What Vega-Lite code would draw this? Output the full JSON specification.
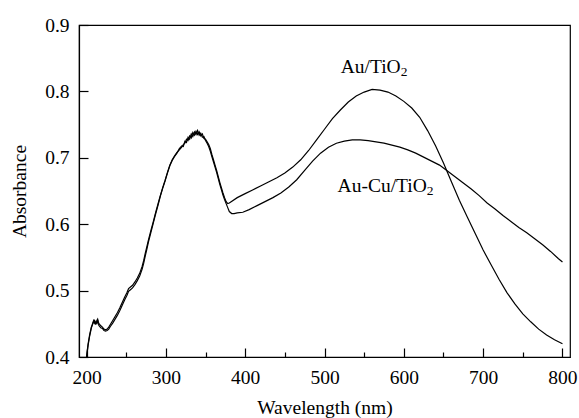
{
  "$schema": "https://vega.github.io/schema/vega-lite/v6.json",
  "width": 491,
  "height": 332,
  "autosize": {"type": "none"},
  "padding": {"left": 79, "top": 25, "right": 9, "bottom": 61},
  "config": {
    "view": {"stroke": "black", "strokeWidth": 1.2},
    "font": "Liberation Serif",
    "axis": {"grid": false, "domainColor": "black", "tickColor": "black", "labelColor": "black", "titleColor": "black", "labelFont": "Liberation Serif", "titleFont": "Liberation Serif", "labelFontSize": 19.5, "titleFontSize": 19.5, "titleFontWeight": "normal"}
  },
  "datasets": {
    "spec": [
      {"wl":200,"abs":0.400,"s":"Au/TiO2"},{"wl":202,"abs":0.418,"s":"Au/TiO2"},{"wl":204,"abs":0.432,"s":"Au/TiO2"},{"wl":206,"abs":0.443,"s":"Au/TiO2"},{"wl":208,"abs":0.452,"s":"Au/TiO2"},{"wl":209,"abs":0.455,"s":"Au/TiO2"},{"wl":210,"abs":0.451,"s":"Au/TiO2"},{"wl":211,"abs":0.453,"s":"Au/TiO2"},{"wl":212,"abs":0.449,"s":"Au/TiO2"},{"wl":213,"abs":0.455,"s":"Au/TiO2"},{"wl":214,"abs":0.457,"s":"Au/TiO2"},{"wl":215,"abs":0.452,"s":"Au/TiO2"},{"wl":216,"abs":0.450,"s":"Au/TiO2"},{"wl":218,"abs":0.447,"s":"Au/TiO2"},{"wl":220,"abs":0.445,"s":"Au/TiO2"},{"wl":222,"abs":0.442,"s":"Au/TiO2"},{"wl":224,"abs":0.441,"s":"Au/TiO2"},{"wl":226,"abs":0.442,"s":"Au/TiO2"},{"wl":228,"abs":0.445,"s":"Au/TiO2"},{"wl":230,"abs":0.449,"s":"Au/TiO2"},{"wl":233,"abs":0.455,"s":"Au/TiO2"},{"wl":236,"abs":0.461,"s":"Au/TiO2"},{"wl":239,"abs":0.467,"s":"Au/TiO2"},{"wl":242,"abs":0.474,"s":"Au/TiO2"},{"wl":245,"abs":0.482,"s":"Au/TiO2"},{"wl":248,"abs":0.490,"s":"Au/TiO2"},{"wl":251,"abs":0.497,"s":"Au/TiO2"},{"wl":253,"abs":0.503,"s":"Au/TiO2"},{"wl":255,"abs":0.505,"s":"Au/TiO2"},{"wl":258,"abs":0.508,"s":"Au/TiO2"},{"wl":261,"abs":0.513,"s":"Au/TiO2"},{"wl":264,"abs":0.519,"s":"Au/TiO2"},{"wl":267,"abs":0.526,"s":"Au/TiO2"},{"wl":270,"abs":0.536,"s":"Au/TiO2"},{"wl":272,"abs":0.545,"s":"Au/TiO2"},{"wl":274,"abs":0.556,"s":"Au/TiO2"},{"wl":276,"abs":0.566,"s":"Au/TiO2"},{"wl":278,"abs":0.576,"s":"Au/TiO2"},{"wl":281,"abs":0.590,"s":"Au/TiO2"},{"wl":284,"abs":0.603,"s":"Au/TiO2"},{"wl":287,"abs":0.617,"s":"Au/TiO2"},{"wl":290,"abs":0.630,"s":"Au/TiO2"},{"wl":293,"abs":0.643,"s":"Au/TiO2"},{"wl":296,"abs":0.655,"s":"Au/TiO2"},{"wl":299,"abs":0.666,"s":"Au/TiO2"},{"wl":302,"abs":0.678,"s":"Au/TiO2"},{"wl":305,"abs":0.689,"s":"Au/TiO2"},{"wl":308,"abs":0.697,"s":"Au/TiO2"},{"wl":311,"abs":0.703,"s":"Au/TiO2"},{"wl":314,"abs":0.708,"s":"Au/TiO2"},{"wl":317,"abs":0.712,"s":"Au/TiO2"},{"wl":320,"abs":0.716,"s":"Au/TiO2"},{"wl":322,"abs":0.720,"s":"Au/TiO2"},{"wl":324,"abs":0.722,"s":"Au/TiO2"},{"wl":326,"abs":0.728,"s":"Au/TiO2"},{"wl":328,"abs":0.726,"s":"Au/TiO2"},{"wl":330,"abs":0.733,"s":"Au/TiO2"},{"wl":332,"abs":0.730,"s":"Au/TiO2"},{"wl":334,"abs":0.738,"s":"Au/TiO2"},{"wl":336,"abs":0.734,"s":"Au/TiO2"},{"wl":338,"abs":0.740,"s":"Au/TiO2"},{"wl":340,"abs":0.735,"s":"Au/TiO2"},{"wl":342,"abs":0.739,"s":"Au/TiO2"},{"wl":344,"abs":0.733,"s":"Au/TiO2"},{"wl":346,"abs":0.736,"s":"Au/TiO2"},{"wl":348,"abs":0.729,"s":"Au/TiO2"},{"wl":350,"abs":0.728,"s":"Au/TiO2"},{"wl":352,"abs":0.724,"s":"Au/TiO2"},{"wl":354,"abs":0.720,"s":"Au/TiO2"},{"wl":356,"abs":0.714,"s":"Au/TiO2"},{"wl":358,"abs":0.705,"s":"Au/TiO2"},{"wl":360,"abs":0.697,"s":"Au/TiO2"},{"wl":362,"abs":0.689,"s":"Au/TiO2"},{"wl":364,"abs":0.681,"s":"Au/TiO2"},{"wl":366,"abs":0.672,"s":"Au/TiO2"},{"wl":368,"abs":0.663,"s":"Au/TiO2"},{"wl":370,"abs":0.655,"s":"Au/TiO2"},{"wl":372,"abs":0.647,"s":"Au/TiO2"},{"wl":374,"abs":0.640,"s":"Au/TiO2"},{"wl":376,"abs":0.634,"s":"Au/TiO2"},{"wl":378,"abs":0.631,"s":"Au/TiO2"},{"wl":380,"abs":0.632,"s":"Au/TiO2"},{"wl":390,"abs":0.640,"s":"Au/TiO2"},{"wl":400,"abs":0.646,"s":"Au/TiO2"},{"wl":410,"abs":0.652,"s":"Au/TiO2"},{"wl":420,"abs":0.658,"s":"Au/TiO2"},{"wl":430,"abs":0.664,"s":"Au/TiO2"},{"wl":440,"abs":0.670,"s":"Au/TiO2"},{"wl":450,"abs":0.677,"s":"Au/TiO2"},{"wl":460,"abs":0.686,"s":"Au/TiO2"},{"wl":470,"abs":0.697,"s":"Au/TiO2"},{"wl":480,"abs":0.711,"s":"Au/TiO2"},{"wl":490,"abs":0.727,"s":"Au/TiO2"},{"wl":500,"abs":0.743,"s":"Au/TiO2"},{"wl":510,"abs":0.759,"s":"Au/TiO2"},{"wl":520,"abs":0.772,"s":"Au/TiO2"},{"wl":530,"abs":0.784,"s":"Au/TiO2"},{"wl":540,"abs":0.793,"s":"Au/TiO2"},{"wl":550,"abs":0.799,"s":"Au/TiO2"},{"wl":560,"abs":0.803,"s":"Au/TiO2"},{"wl":570,"abs":0.802,"s":"Au/TiO2"},{"wl":580,"abs":0.799,"s":"Au/TiO2"},{"wl":590,"abs":0.793,"s":"Au/TiO2"},{"wl":600,"abs":0.785,"s":"Au/TiO2"},{"wl":610,"abs":0.775,"s":"Au/TiO2"},{"wl":620,"abs":0.761,"s":"Au/TiO2"},{"wl":630,"abs":0.741,"s":"Au/TiO2"},{"wl":640,"abs":0.718,"s":"Au/TiO2"},{"wl":650,"abs":0.692,"s":"Au/TiO2"},{"wl":660,"abs":0.664,"s":"Au/TiO2"},{"wl":670,"abs":0.636,"s":"Au/TiO2"},{"wl":680,"abs":0.611,"s":"Au/TiO2"},{"wl":690,"abs":0.586,"s":"Au/TiO2"},{"wl":700,"abs":0.561,"s":"Au/TiO2"},{"wl":710,"abs":0.539,"s":"Au/TiO2"},{"wl":720,"abs":0.517,"s":"Au/TiO2"},{"wl":730,"abs":0.497,"s":"Au/TiO2"},{"wl":740,"abs":0.480,"s":"Au/TiO2"},{"wl":750,"abs":0.465,"s":"Au/TiO2"},{"wl":760,"abs":0.453,"s":"Au/TiO2"},{"wl":770,"abs":0.442,"s":"Au/TiO2"},{"wl":780,"abs":0.433,"s":"Au/TiO2"},{"wl":790,"abs":0.426,"s":"Au/TiO2"},{"wl":800,"abs":0.420,"s":"Au/TiO2"},

      {"wl":200,"abs":0.400,"s":"Au-Cu/TiO2"},{"wl":202,"abs":0.420,"s":"Au-Cu/TiO2"},{"wl":204,"abs":0.434,"s":"Au-Cu/TiO2"},{"wl":206,"abs":0.445,"s":"Au-Cu/TiO2"},{"wl":208,"abs":0.450,"s":"Au-Cu/TiO2"},{"wl":209,"abs":0.453,"s":"Au-Cu/TiO2"},{"wl":210,"abs":0.455,"s":"Au-Cu/TiO2"},{"wl":211,"abs":0.450,"s":"Au-Cu/TiO2"},{"wl":212,"abs":0.452,"s":"Au-Cu/TiO2"},{"wl":213,"abs":0.451,"s":"Au-Cu/TiO2"},{"wl":214,"abs":0.456,"s":"Au-Cu/TiO2"},{"wl":215,"abs":0.449,"s":"Au-Cu/TiO2"},{"wl":216,"abs":0.447,"s":"Au-Cu/TiO2"},{"wl":218,"abs":0.444,"s":"Au-Cu/TiO2"},{"wl":220,"abs":0.443,"s":"Au-Cu/TiO2"},{"wl":222,"abs":0.440,"s":"Au-Cu/TiO2"},{"wl":224,"abs":0.439,"s":"Au-Cu/TiO2"},{"wl":226,"abs":0.440,"s":"Au-Cu/TiO2"},{"wl":228,"abs":0.442,"s":"Au-Cu/TiO2"},{"wl":230,"abs":0.446,"s":"Au-Cu/TiO2"},{"wl":233,"abs":0.451,"s":"Au-Cu/TiO2"},{"wl":236,"abs":0.457,"s":"Au-Cu/TiO2"},{"wl":239,"abs":0.463,"s":"Au-Cu/TiO2"},{"wl":242,"abs":0.470,"s":"Au-Cu/TiO2"},{"wl":245,"abs":0.478,"s":"Au-Cu/TiO2"},{"wl":248,"abs":0.486,"s":"Au-Cu/TiO2"},{"wl":251,"abs":0.493,"s":"Au-Cu/TiO2"},{"wl":253,"abs":0.499,"s":"Au-Cu/TiO2"},{"wl":255,"abs":0.501,"s":"Au-Cu/TiO2"},{"wl":258,"abs":0.504,"s":"Au-Cu/TiO2"},{"wl":261,"abs":0.509,"s":"Au-Cu/TiO2"},{"wl":264,"abs":0.515,"s":"Au-Cu/TiO2"},{"wl":267,"abs":0.522,"s":"Au-Cu/TiO2"},{"wl":270,"abs":0.532,"s":"Au-Cu/TiO2"},{"wl":272,"abs":0.541,"s":"Au-Cu/TiO2"},{"wl":274,"abs":0.552,"s":"Au-Cu/TiO2"},{"wl":276,"abs":0.562,"s":"Au-Cu/TiO2"},{"wl":278,"abs":0.573,"s":"Au-Cu/TiO2"},{"wl":281,"abs":0.587,"s":"Au-Cu/TiO2"},{"wl":284,"abs":0.601,"s":"Au-Cu/TiO2"},{"wl":287,"abs":0.615,"s":"Au-Cu/TiO2"},{"wl":290,"abs":0.628,"s":"Au-Cu/TiO2"},{"wl":293,"abs":0.642,"s":"Au-Cu/TiO2"},{"wl":296,"abs":0.654,"s":"Au-Cu/TiO2"},{"wl":299,"abs":0.665,"s":"Au-Cu/TiO2"},{"wl":302,"abs":0.677,"s":"Au-Cu/TiO2"},{"wl":305,"abs":0.688,"s":"Au-Cu/TiO2"},{"wl":308,"abs":0.696,"s":"Au-Cu/TiO2"},{"wl":311,"abs":0.702,"s":"Au-Cu/TiO2"},{"wl":314,"abs":0.707,"s":"Au-Cu/TiO2"},{"wl":317,"abs":0.714,"s":"Au-Cu/TiO2"},{"wl":320,"abs":0.718,"s":"Au-Cu/TiO2"},{"wl":322,"abs":0.717,"s":"Au-Cu/TiO2"},{"wl":324,"abs":0.725,"s":"Au-Cu/TiO2"},{"wl":326,"abs":0.723,"s":"Au-Cu/TiO2"},{"wl":328,"abs":0.731,"s":"Au-Cu/TiO2"},{"wl":330,"abs":0.728,"s":"Au-Cu/TiO2"},{"wl":332,"abs":0.736,"s":"Au-Cu/TiO2"},{"wl":334,"abs":0.732,"s":"Au-Cu/TiO2"},{"wl":336,"abs":0.739,"s":"Au-Cu/TiO2"},{"wl":338,"abs":0.735,"s":"Au-Cu/TiO2"},{"wl":340,"abs":0.741,"s":"Au-Cu/TiO2"},{"wl":342,"abs":0.734,"s":"Au-Cu/TiO2"},{"wl":344,"abs":0.737,"s":"Au-Cu/TiO2"},{"wl":346,"abs":0.731,"s":"Au-Cu/TiO2"},{"wl":348,"abs":0.732,"s":"Au-Cu/TiO2"},{"wl":350,"abs":0.726,"s":"Au-Cu/TiO2"},{"wl":352,"abs":0.722,"s":"Au-Cu/TiO2"},{"wl":354,"abs":0.717,"s":"Au-Cu/TiO2"},{"wl":356,"abs":0.710,"s":"Au-Cu/TiO2"},{"wl":358,"abs":0.702,"s":"Au-Cu/TiO2"},{"wl":360,"abs":0.694,"s":"Au-Cu/TiO2"},{"wl":362,"abs":0.686,"s":"Au-Cu/TiO2"},{"wl":364,"abs":0.678,"s":"Au-Cu/TiO2"},{"wl":366,"abs":0.669,"s":"Au-Cu/TiO2"},{"wl":368,"abs":0.660,"s":"Au-Cu/TiO2"},{"wl":370,"abs":0.652,"s":"Au-Cu/TiO2"},{"wl":372,"abs":0.644,"s":"Au-Cu/TiO2"},{"wl":374,"abs":0.637,"s":"Au-Cu/TiO2"},{"wl":376,"abs":0.631,"s":"Au-Cu/TiO2"},{"wl":378,"abs":0.625,"s":"Au-Cu/TiO2"},{"wl":380,"abs":0.619,"s":"Au-Cu/TiO2"},{"wl":383,"abs":0.616,"s":"Au-Cu/TiO2"},{"wl":386,"abs":0.616,"s":"Au-Cu/TiO2"},{"wl":390,"abs":0.617,"s":"Au-Cu/TiO2"},{"wl":397,"abs":0.618,"s":"Au-Cu/TiO2"},{"wl":405,"abs":0.622,"s":"Au-Cu/TiO2"},{"wl":415,"abs":0.628,"s":"Au-Cu/TiO2"},{"wl":425,"abs":0.634,"s":"Au-Cu/TiO2"},{"wl":435,"abs":0.640,"s":"Au-Cu/TiO2"},{"wl":445,"abs":0.647,"s":"Au-Cu/TiO2"},{"wl":455,"abs":0.656,"s":"Au-Cu/TiO2"},{"wl":465,"abs":0.667,"s":"Au-Cu/TiO2"},{"wl":475,"abs":0.681,"s":"Au-Cu/TiO2"},{"wl":485,"abs":0.695,"s":"Au-Cu/TiO2"},{"wl":495,"abs":0.707,"s":"Au-Cu/TiO2"},{"wl":505,"abs":0.716,"s":"Au-Cu/TiO2"},{"wl":515,"abs":0.722,"s":"Au-Cu/TiO2"},{"wl":525,"abs":0.725,"s":"Au-Cu/TiO2"},{"wl":535,"abs":0.727,"s":"Au-Cu/TiO2"},{"wl":545,"abs":0.727,"s":"Au-Cu/TiO2"},{"wl":555,"abs":0.726,"s":"Au-Cu/TiO2"},{"wl":565,"abs":0.724,"s":"Au-Cu/TiO2"},{"wl":575,"abs":0.722,"s":"Au-Cu/TiO2"},{"wl":585,"abs":0.719,"s":"Au-Cu/TiO2"},{"wl":595,"abs":0.716,"s":"Au-Cu/TiO2"},{"wl":605,"abs":0.712,"s":"Au-Cu/TiO2"},{"wl":615,"abs":0.707,"s":"Au-Cu/TiO2"},{"wl":625,"abs":0.701,"s":"Au-Cu/TiO2"},{"wl":635,"abs":0.695,"s":"Au-Cu/TiO2"},{"wl":645,"abs":0.689,"s":"Au-Cu/TiO2"},{"wl":655,"abs":0.680,"s":"Au-Cu/TiO2"},{"wl":665,"abs":0.671,"s":"Au-Cu/TiO2"},{"wl":675,"abs":0.662,"s":"Au-Cu/TiO2"},{"wl":685,"abs":0.653,"s":"Au-Cu/TiO2"},{"wl":695,"abs":0.643,"s":"Au-Cu/TiO2"},{"wl":705,"abs":0.632,"s":"Au-Cu/TiO2"},{"wl":715,"abs":0.623,"s":"Au-Cu/TiO2"},{"wl":725,"abs":0.613,"s":"Au-Cu/TiO2"},{"wl":735,"abs":0.604,"s":"Au-Cu/TiO2"},{"wl":745,"abs":0.595,"s":"Au-Cu/TiO2"},{"wl":755,"abs":0.587,"s":"Au-Cu/TiO2"},{"wl":765,"abs":0.578,"s":"Au-Cu/TiO2"},{"wl":775,"abs":0.569,"s":"Au-Cu/TiO2"},{"wl":785,"abs":0.559,"s":"Au-Cu/TiO2"},{"wl":795,"abs":0.548,"s":"Au-Cu/TiO2"},{"wl":800,"abs":0.543,"s":"Au-Cu/TiO2"}
    ],
    "labels": [
      {"wl": 596, "abs": 0.827, "main": "Au/TiO"},
      {"wl": 629, "abs": 0.649, "main": "Au-Cu/TiO"}
    ]
  },
  "layer": [
    {
      "data": {"name": "spec"},
      "mark": {"type": "line", "color": "black", "strokeWidth": 1.2, "clip": true},
      "encoding": {
        "x": {"field": "wl", "type": "quantitative", "scale": {"domain": [190.5, 809.5], "nice": false, "zero": false},
              "axis": {"values": [200, 250, 300, 350, 400, 450, 500, 550, 600, 650, 700, 750, 800],
                       "labelExpr": "datum.value % 100 === 0 ? datum.label : ''",
                       "tickSize": {"condition": {"test": "datum.value % 100 === 0", "value": -9}, "value": -5},
                       "labelPadding": 20, "title": "Wavelength (nm)", "titlePadding": 12, "domainWidth": 1.2, "tickWidth": 1.2}},
        "y": {"field": "abs", "type": "quantitative", "scale": {"domain": [0.4, 0.9], "nice": false, "zero": false},
              "axis": {"values": [0.4, 0.45, 0.5, 0.55, 0.6, 0.65, 0.7, 0.75, 0.8, 0.85, 0.9],
                       "labelExpr": "round(datum.value * 20) % 2 === 0 ? format(datum.value, '.1f') : ''",
                       "tickSize": {"condition": {"test": "round(datum.value * 20) % 2 === 0", "value": -9}, "value": -5},
                       "labelPadding": 19, "title": "Absorbance", "titlePadding": 15, "domainWidth": 1.2, "tickWidth": 1.2}},
        "detail": {"field": "s"},
        "order": {"field": "wl", "type": "quantitative"}
      }
    },
    {
      "data": {"name": "labels"},
      "mark": {"type": "text", "align": "right", "baseline": "alphabetic", "fontSize": 19.5, "font": "Liberation Serif", "color": "black"},
      "encoding": {
        "x": {"field": "wl", "type": "quantitative"},
        "y": {"field": "abs", "type": "quantitative"},
        "text": {"field": "main"}
      }
    },
    {
      "data": {"name": "labels"},
      "mark": {"type": "text", "align": "left", "baseline": "alphabetic", "fontSize": 13.5, "font": "Liberation Serif", "color": "black", "dy": 3, "text": "2"},
      "encoding": {
        "x": {"field": "wl", "type": "quantitative"},
        "y": {"field": "abs", "type": "quantitative"}
      }
    }
  ]
}
